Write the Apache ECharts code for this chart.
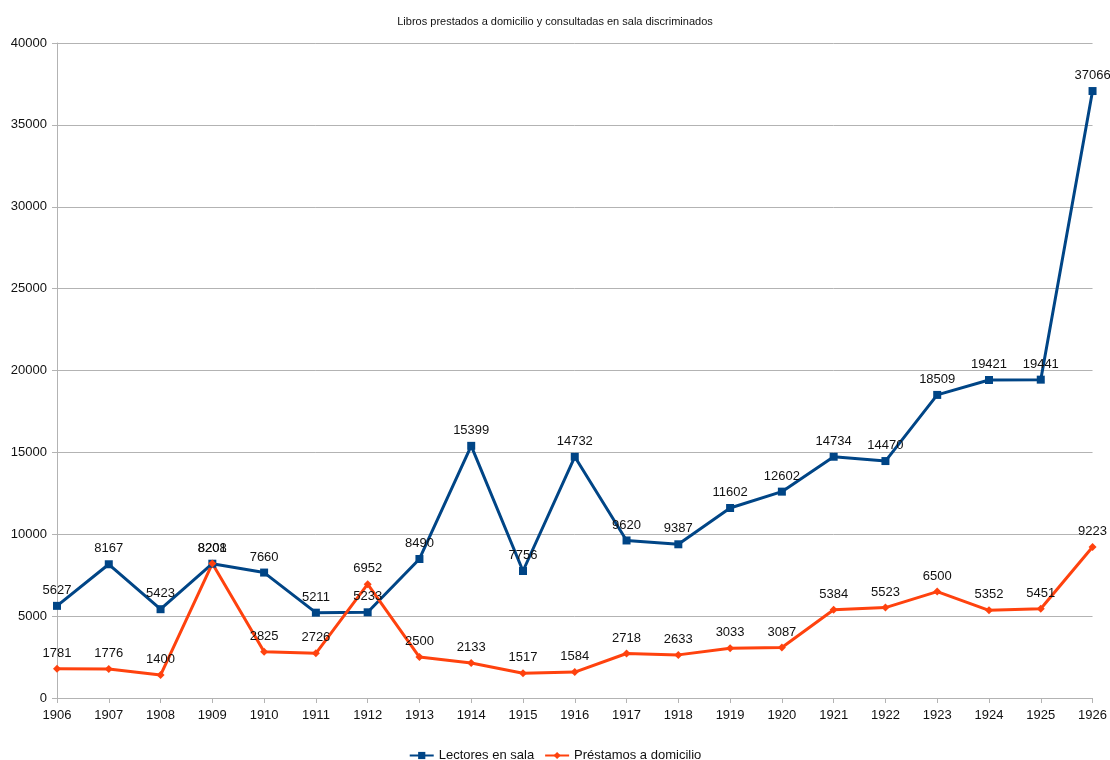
<!DOCTYPE html>
<html><head><meta charset="utf-8">
<script src="https://cdn.jsdelivr.net/npm/echarts@6/dist/echarts.min.js"></script>
<style>html,body{margin:0;padding:0;background:#fff}#c{width:1110px;height:760px}</style>
</head><body><div id="c"></div>
<script>
const years = ['1906','1907','1908','1909','1910','1911','1912','1913','1914','1915','1916','1917','1918','1919','1920','1921','1922','1923','1924','1925','1926'];
const lectores = [5627,8167,5423,8201,7660,5211,5233,8490,15399,7756,14732,9620,9387,11602,12602,14734,14470,18509,19421,19441,37066];
const prestamos = [1781,1776,1400,8208,2825,2726,6952,2500,2133,1517,1584,2718,2633,3033,3087,5384,5523,6500,5352,5451,9223];
const yTicks = [0,5000,10000,15000,20000,25000,30000,35000,40000];

const chart = echarts.init(document.getElementById('c'));
const lbl = {show:true, position:'top', color:'#111', fontSize:13, fontFamily:'Liberation Sans', distance:5};
chart.setOption({
  animation:false,
  title:{text:'Libros prestados a domicilio y consultadas en sala discriminados', left:'center', top:11,
    textStyle:{fontSize:11, fontWeight:'normal', color:'#111', fontFamily:'Liberation Sans'}},
  legend:{top:744, itemWidth:24, itemHeight:9, itemGap:10,
    textStyle:{fontSize:13, color:'#111', fontFamily:'Liberation Sans'}},
  grid:{left:57, right:17, top:43, bottom:62, containLabel:false},
  xAxis:{type:'category', data:years, boundaryGap:false,
    axisLine:{lineStyle:{color:'#b3b3b3'}},
    axisTick:{show:true, alignWithLabel:true, lineStyle:{color:'#b3b3b3'}},
    axisLabel:{color:'#111', fontSize:13, fontFamily:'Liberation Sans', margin:11},
    splitLine:{show:false}},
  yAxis:{type:'value', min:yTicks[0], max:yTicks[yTicks.length-1], interval:5000,
    axisLine:{show:true, lineStyle:{color:'#b3b3b3'}},
    axisTick:{show:true, length:5, lineStyle:{color:'#b3b3b3'}},
    axisLabel:{color:'#111', fontSize:13, fontFamily:'Liberation Sans', margin:10, formatter:v=>String(v)},
    splitLine:{lineStyle:{color:'#b3b3b3'}}},
  series:[
    {name:'Lectores en sala', type:'line', data:lectores, symbol:'rect', symbolSize:8,
     itemStyle:{color:'#004586'}, lineStyle:{width:3, color:'#004586'}, label:lbl},
    {name:'Préstamos a domicilio', type:'line', data:prestamos, symbol:'diamond', symbolSize:8,
     itemStyle:{color:'#ff420e'}, lineStyle:{width:3, color:'#ff420e'}, label:lbl}
  ]
});
</script></body></html>
